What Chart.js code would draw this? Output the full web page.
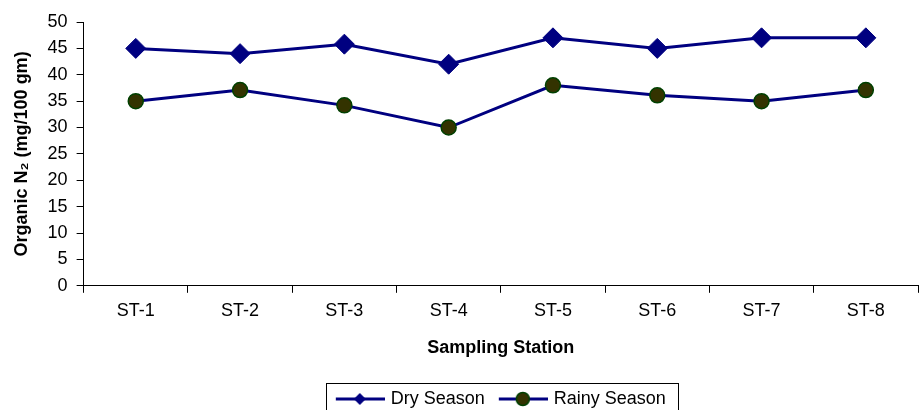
<!DOCTYPE html>
<html>
<head>
<meta charset="utf-8">
<script src="https://cdn.jsdelivr.net/npm/chart.js@4/dist/chart.umd.min.js"></script>
<style>
  html, body { margin: 0; padding: 0; background: #fff; overflow: hidden; }
  #wrap { position: relative; width: 921px; height: 418px; }
</style>
</head>
<body>
<div id="wrap"><canvas id="chart"></canvas></div>
<script>
// Data
const stations = ['ST-1', 'ST-2', 'ST-3', 'ST-4', 'ST-5', 'ST-6', 'ST-7', 'ST-8'];
const drySeason = [45, 44, 45.8, 42, 47, 45, 47, 47];
const rainySeason = [35, 37.1, 34.2, 30, 38, 36.1, 35, 37.1];
const yTicks = [0, 5, 10, 15, 20, 25, 30, 35, 40, 45, 50];

const NAVY = '#000080';
const FONT = '"Liberation Sans", Arial, Helvetica, sans-serif';

Chart.defaults.font.family = FONT;
Chart.defaults.color = '#000';

// legend swatch: short line with the marker on it (Excel style)
function legendSwatch(kind) {
  const c = document.createElement('canvas');
  c.width = 52; c.height = 20;
  const g = c.getContext('2d');
  g.strokeStyle = NAVY; g.lineWidth = 3;
  g.beginPath(); g.moveTo(3, 10); g.lineTo(52, 10); g.stroke();
  if (kind === 'diamond') {
    g.fillStyle = NAVY;
    g.beginPath(); g.moveTo(27, 4); g.lineTo(33, 10); g.lineTo(27, 16); g.lineTo(21, 10); g.closePath(); g.fill();
  } else {
    g.fillStyle = '#333300'; g.strokeStyle = '#004000'; g.lineWidth = 1.5;
    g.beginPath(); g.arc(27, 10, 6.5, 0, Math.PI * 2); g.fill(); g.stroke();
  }
  return c;
}

const legendFrame = {
  id: 'legendFrame',
  afterDraw(chart) {
    const boxes = chart.legend && chart.legend.legendHitBoxes;
    if (!boxes || !boxes.length) return;
    const first = boxes[0], last = boxes[boxes.length - 1];
    const ctx = chart.ctx;
    ctx.save();
    ctx.strokeStyle = '#000'; ctx.lineWidth = 1;
    const l = Math.round(first.left - 10) + 0.5;
    const r = Math.round(last.left + last.width + 12) + 0.5;
    const t = Math.round(first.top - 7) + 0.5;
    ctx.strokeRect(l, t, r - l, chart.height - t + 10);
    ctx.restore();
  }
};

new Chart(document.getElementById('chart'), {
  type: 'line',
  data: {
    labels: stations,
    datasets: [
      {
        label: 'Dry Season', data: drySeason,
        borderColor: NAVY, borderWidth: 3,
        pointStyle: 'rectRot', pointRadius: 10, pointBackgroundColor: NAVY, pointBorderColor: NAVY, pointBorderWidth: 1,
        tension: 0
      },
      {
        label: 'Rainy Season', data: rainySeason,
        borderColor: NAVY, borderWidth: 3,
        pointStyle: 'circle', pointRadius: 7.5, pointBackgroundColor: '#333300', pointBorderColor: '#004000', pointBorderWidth: 1.5,
        tension: 0
      }
    ]
  },
  options: {
    responsive: true, maintainAspectRatio: false, animation: false,
    layout: { autoPadding: false, padding: { top: 22, left: 11, right: 3, bottom: 0 } },
    plugins: {
      tooltip: { enabled: false },
      legend: {
        position: 'bottom', fullSize: false,
        labels: {
          usePointStyle: true, pointStyleWidth: 46, boxHeight: 18, padding: 14,
          font: { size: 18 }, color: '#000',
          generateLabels: (chart) => chart.data.datasets.map((ds, i) => ({
            text: ds.label, datasetIndex: i, hidden: false, lineWidth: 0,
            pointStyle: legendSwatch(i === 0 ? 'diamond' : 'circle')
          }))
        }
      }
    },
    scales: {
      x: {
        offset: true,
        grid: { offset: true, drawOnChartArea: false, drawTicks: true, tickLength: 7, color: '#000' },
        border: { color: '#000', width: 1 },
        ticks: { font: { size: 18 }, color: '#000', padding: 7, maxRotation: 0 },
        title: { display: true, text: 'Sampling Station', font: { size: 18, weight: 'bold' }, color: '#000', padding: { top: 9, bottom: 17 } }
      },
      y: {
        min: 0, max: 50,
        afterBuildTicks: (axis) => { axis.ticks = yTicks.map(v => ({ value: v })); },
        grid: { drawOnChartArea: false, drawTicks: true, tickLength: 7, color: '#000' },
        border: { color: '#000', width: 1 },
        ticks: { font: { size: 18 }, color: '#000', padding: 9 },
        title: { display: true, text: 'Organic N\u2082 (mg/100 gm)', font: { size: 18, weight: 'bold' }, color: '#000', padding: { top: 0, bottom: 6 } }
      }
    }
  },
  plugins: [legendFrame]
});
</script>
</body>
</html>
